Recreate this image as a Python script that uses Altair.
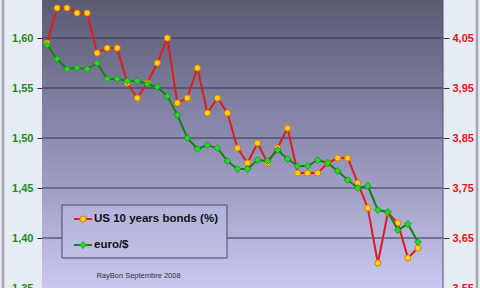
import altair as alt
import pandas as pd

# ---- data ----
idx = list(range(38))
bond = [4.04, 4.11, 4.11, 4.10, 4.10, 4.02, 4.03, 4.03, 3.96, 3.93,
        3.96, 4.00, 4.05, 3.92, 3.93, 3.99, 3.90, 3.93, 3.90, 3.83,
        3.80, 3.84, 3.80, 3.83, 3.87, 3.78, 3.78, 3.78, 3.80, 3.81,
        3.81, 3.76, 3.71, 3.60, 3.70, 3.68, 3.61, 3.63]
euro = [1.593, 1.579, 1.569, 1.570, 1.569, 1.575, 1.559, 1.559, 1.557, 1.557,
        1.554, 1.551, 1.542, 1.523, 1.500, 1.489, 1.493, 1.490, 1.477, 1.469,
        1.469, 1.478, 1.477, 1.488, 1.479, 1.472, 1.472, 1.478, 1.475, 1.467,
        1.458, 1.450, 1.452, 1.428, 1.426, 1.408, 1.414, 1.396]
left_ticks = [1.35, 1.40, 1.45, 1.50, 1.55, 1.60]
right_ticks = [3.55, 3.65, 3.75, 3.85, 3.95, 4.05]
grid_vals = [1.40, 1.45, 1.50, 1.55, 1.60]
x_ticks = [-0.5 + 5 * i for i in range(9)]
legend_labels = ["US 10 years bonds (%)", "euro/$"]
credit = "RayBon Septembre 2008"

df = pd.DataFrame({"k": idx, "bond": bond, "euro": euro})
one = pd.DataFrame({"a": [0]})
grid_df = pd.DataFrame({"g": grid_vals})

FONT = "Liberation Sans"
RED_LINE = "#e01c1c"
GREEN_LINE = "#1a7f1a"

xscale = alt.Scale(domain=[-0.5, 39.5], nice=False, zero=False)
xaxis = alt.Axis(values=x_ticks, labels=False, title=None, grid=False,
                 tickSize=6, tickColor="#333344", domainColor="#333344",
                 domainWidth=1.5)
lscale = alt.Scale(domain=[1.35, 1.638], nice=False, zero=False)
rscale = alt.Scale(domain=[3.55, 4.126], nice=False, zero=False)

bg = alt.Chart(one).mark_rect(
    fill=alt.Gradient(gradient="linear", x1=0, x2=0, y1=0, y2=1,
                      stops=[alt.GradientStop(offset=0, color="#5a5a72"),
                             alt.GradientStop(offset=0.5, color="#8e8eb4"),
                             alt.GradientStop(offset=1, color="#c8c8f0")])
).encode(x=alt.value(0), x2=alt.value("width"), y=alt.value(0), y2=alt.value("height"))

grid = alt.Chart(grid_df).mark_rule(color="#35354c", strokeWidth=1.2).encode(
    y=alt.Y("g:Q", scale=lscale, axis=None)
)

red_line = alt.Chart(df).mark_line(color=RED_LINE, strokeWidth=2).encode(
    x=alt.X("k:Q", scale=xscale, axis=xaxis),
    y=alt.Y("bond:Q", scale=rscale,
            axis=alt.Axis(orient="right", values=right_ticks, title=None, grid=False,
                          labelExpr="replace(format(datum.value, '.2f'), '.', ',')",
                          labelColor="#e81414", labelFont=FONT, labelFontWeight="bold",
                          labelFontSize=11, tickSize=6, tickColor="#333344",
                          domain=False, labelPadding=3))
)
red_pts = alt.Chart(df).mark_point(shape="circle", filled=True, fill="#ffd21e",
                                   stroke="#e07800", strokeWidth=1, size=38,
                                   opacity=1).encode(
    x=alt.X("k:Q", scale=xscale, axis=xaxis),
    y=alt.Y("bond:Q", scale=rscale, axis=None)
)
green_line = alt.Chart(df).mark_line(color=GREEN_LINE, strokeWidth=2).encode(
    x=alt.X("k:Q", scale=xscale, axis=xaxis),
    y=alt.Y("euro:Q", scale=lscale,
            axis=alt.Axis(orient="left", values=left_ticks, title=None, grid=False,
                          labelExpr="replace(format(datum.value, '.2f'), '.', ',')",
                          labelColor="#1e8a1e", labelFont=FONT, labelFontWeight="bold",
                          labelFontSize=11, tickSize=5, tickColor="#333344",
                          domain=False, labelPadding=4))
)
green_pts = alt.Chart(df).mark_point(shape="diamond", filled=True, fill="#2ad42a",
                                     stroke="#139313", strokeWidth=0.8, size=48,
                                     opacity=1).encode(
    x=alt.X("k:Q", scale=xscale, axis=xaxis),
    y=alt.Y("euro:Q", scale=lscale, axis=None)
)

# ---- legend box ----
leg_box = alt.Chart(one).mark_rect(
    fill=alt.Gradient(gradient="linear", x1=0, x2=0, y1=0, y2=1,
                      stops=[alt.GradientStop(offset=0, color="#b2b2da"),
                             alt.GradientStop(offset=1, color="#c0c0e6")]),
    stroke="#484860", strokeWidth=1
).encode(x=alt.value(20), x2=alt.value(185), y=alt.value(205), y2=alt.value(258))

leg_r_line = alt.Chart(one).mark_rule(color=RED_LINE, strokeWidth=2).encode(
    x=alt.value(32), x2=alt.value(50), y=alt.value(219))
leg_r_pt = alt.Chart(one).mark_point(shape="circle", filled=True, fill="#ffd21e",
                                     stroke="#e07800", strokeWidth=1, size=38,
                                     opacity=1).encode(x=alt.value(41), y=alt.value(219))
leg_g_line = alt.Chart(one).mark_rule(color=GREEN_LINE, strokeWidth=2).encode(
    x=alt.value(32), x2=alt.value(50), y=alt.value(245))
leg_g_pt = alt.Chart(one).mark_point(shape="diamond", filled=True, fill="#2ad42a",
                                     stroke="#139313", strokeWidth=0.8, size=48,
                                     opacity=1).encode(x=alt.value(41), y=alt.value(245))
leg_t1 = alt.Chart(one).mark_text(align="left", baseline="middle", font=FONT,
                                  fontWeight="bold", fontSize=11.5, color="#111111").encode(
    x=alt.value(52), y=alt.value(219), text=alt.value(legend_labels[0]))
leg_t2 = alt.Chart(one).mark_text(align="left", baseline="middle", font=FONT,
                                  fontWeight="bold", fontSize=11.5, color="#111111").encode(
    x=alt.value(52), y=alt.value(245), text=alt.value(legend_labels[1]))

credit_t = alt.Chart(one).mark_text(align="center", baseline="middle", font=FONT,
                                    fontSize=7.5, color="#333344").encode(
    x=alt.value(96.5), y=alt.value(276), text=alt.value(credit))

right_edge = alt.Chart(one).mark_rule(color="#50506a", strokeWidth=1).encode(
    x=alt.value("width"), y=alt.value(0), y2=alt.value("height"))
border_l = alt.Chart(one).mark_rule(color="#a4a4ae", strokeWidth=2.5).encode(
    x=alt.value(-39), y=alt.value(0), y2=alt.value("height"))
border_r = alt.Chart(one).mark_rule(color="#a4a4ae", strokeWidth=2.5).encode(
    x=alt.value(435), y=alt.value(0), y2=alt.value("height"))

chart = alt.layer(
    bg, grid, right_edge, red_line, red_pts, green_line, green_pts,
    leg_box, leg_r_line, leg_r_pt, leg_g_line, leg_g_pt, leg_t1, leg_t2,
    credit_t, border_l, border_r
).resolve_scale(y="independent").properties(
    width=401, height=288,
    autosize=alt.AutoSizeParams(type="none"),
    padding={"left": 42, "top": 0, "right": 37, "bottom": 0},
    background="#e6ecf4",
).configure_view(stroke=None)

chart.save("out.html", embed_options={"renderer": "svg", "actions": False})
